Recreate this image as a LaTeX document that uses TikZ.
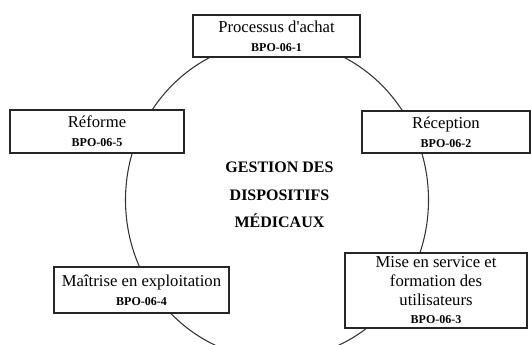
\documentclass[tikz,border=0pt]{standalone}
\usepackage{fontspec}
\setmainfont{Liberation Serif}
\newcommand{\codefont}{\fontsize{9}{12.5}\selectfont\bfseries}
\tikzset{
  stage/.style={draw=black!85, line width=1pt, fill=white, align=center,
    inner sep=1pt, font=\fontsize{12.5}{14}\selectfont},
  ring/.style={draw=black!80, line width=0.8pt}
}
\begin{document}
\begin{tikzpicture}[x=0.75pt,y=0.75pt]
  \useasboundingbox (0,0) rectangle (531,345);
  \clip (0,0) rectangle (531,345);
  \draw [ring] (277,145) ellipse [x radius=151.5, y radius=159];
  \node [stage, minimum width=125.25pt, minimum height=31.5pt] (achat) at (276.5,309)
    {Processus d\textquotesingle achat\\{\codefont BPO-06-1}};
  \node [stage, minimum width=126pt, minimum height=31.5pt] (reception) at (446,213)
    {Réception\\{\codefont BPO-06-2}};
  \node [stage, minimum width=136.5pt, minimum height=56.25pt] (service) at (436,54.5)
    {Mise en service et\\formation des\\utilisateurs\\{\codefont BPO-06-3}};
  \node [stage, minimum width=131.25pt, minimum height=34.5pt] (maitrise) at (141.5,55)
    {Maîtrise en exploitation\\{\codefont BPO-06-4}};
  \node [stage, minimum width=130.5pt, minimum height=32.25pt] (reforme) at (97,213.5)
    {Réforme\\{\codefont BPO-06-5}};
  \node [align=center, font=\fontsize{12}{20.6}\selectfont\bfseries] (gestion) at (279.5,150)
    {GESTION DES\\DISPOSITIFS\\MÉDICAUX};
\end{tikzpicture}
\end{document}
